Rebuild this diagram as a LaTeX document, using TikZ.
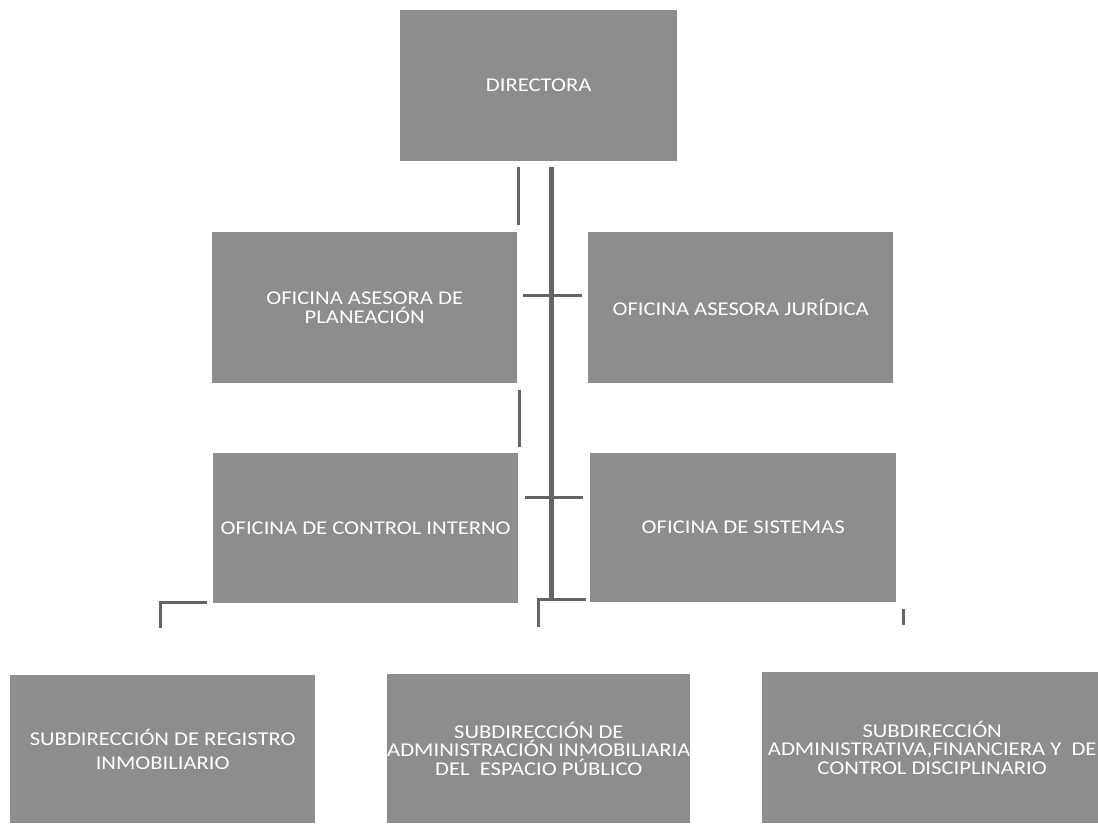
\documentclass[tikz,border=0pt]{standalone}
\usepackage{fontspec}
\setmainfont{Carlito}[FakeStretch=1.16]
\usepackage{xcolor}
\definecolor{cajagris}{RGB}{141,141,141}
\definecolor{lineagris}{RGB}{100,100,100}
\tikzstyle{caja}=[fill=cajagris,text=white,anchor=north west,align=center,inner sep=0pt,font=\fontsize{19.5}{18.3}\selectfont]
\tikzstyle{linea}=[draw=lineagris,line width=3pt]
\tikzstyle{troncal}=[draw=lineagris,line width=5pt]

\begin{document}
\begin{tikzpicture}[x=1pt,y=-1pt]
	\useasboundingbox (0,0) rectangle (1098,823);
	\node[caja,minimum width=277pt,minimum height=151pt] (dir)  at (400,10)  {DIRECTORA};
	\node[caja,minimum width=305pt,minimum height=151pt] (plan) at (212,232) {OFICINA ASESORA DE\\PLANEACIÓN};
	\node[caja,minimum width=305pt,minimum height=151pt] (jur)  at (588,232) {OFICINA ASESORA JURÍDICA};
	\node[caja,minimum width=305pt,minimum height=150pt] (ci)   at (213,453) {OFICINA DE CONTROL INTERNO};
	\node[caja,minimum width=306pt,minimum height=149pt] (sis)  at (590,453) {OFICINA DE SISTEMAS};
	\node[caja,minimum width=305pt,minimum height=148pt,font=\fontsize{19.5}{24}\selectfont] (sreg) at (10,675) {SUBDIRECCIÓN DE REGISTRO\\INMOBILIARIO};
	\node[caja,minimum width=302pt,minimum height=149pt] (sadm) at (387,674) {SUBDIRECCIÓN DE\\ADMINISTRACIÓN INMOBILIARIA\\DEL~ ESPACIO PÚBLICO};
	\node[caja,minimum width=340pt,minimum height=151pt] (sfin) at (762,672) {SUBDIRECCIÓN\\ADMINISTRATIVA,FINANCIERA Y~ DE\\CONTROL DISCIPLINARIO};

	\coordinate (t1) at (551,167);  \coordinate (t2) at (551,599);
	\coordinate (a1) at (518,167);  \coordinate (a2) at (518,225);
	\coordinate (b1) at (519,390);  \coordinate (b2) at (519,447);
	\coordinate (c1) at (523,295);  \coordinate (c2) at (582,295);
	\coordinate (d1) at (525,497);  \coordinate (d2) at (583,497);
	\coordinate (e1) at (586,599);  \coordinate (e2) at (538,599);  \coordinate (e3) at (538,627);
	\coordinate (f1) at (207,602);  \coordinate (f2) at (160,602);  \coordinate (f3) at (160,628);
	\coordinate (g1) at (903,609);  \coordinate (g2) at (903,625);

	\draw[troncal] (t1) -- (t2);
	\draw[linea] (a1) -- (a2);
	\draw[linea] (b1) -- (b2);
	\draw[linea] (c1) -- (c2);
	\draw[linea] (d1) -- (d2);
	\draw[linea] (e1) -- (e2) -- (e3);
	\draw[linea] (f1) -- (f2) -- (f3);
	\draw[linea] (g1) -- (g2);
\end{tikzpicture}
\end{document}
